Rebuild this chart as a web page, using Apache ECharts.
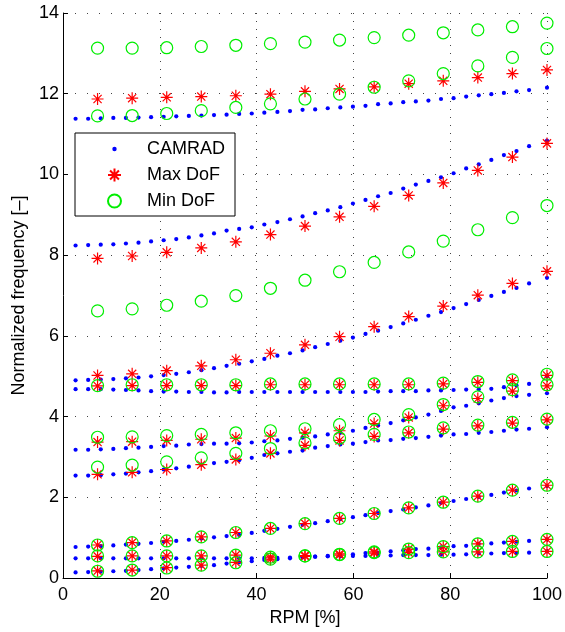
<!DOCTYPE html>
<html>
<head>
<meta charset="utf-8">
<script src="https://cdn.jsdelivr.net/npm/echarts@6/dist/echarts.min.js"></script>
<style>
  html, body { margin: 0; padding: 0; background: #fff; }
  #chart { width: 565px; height: 632px; }
</style>
</head>
<body>
<div id="chart"></div>
<script>
// RPM positions
var camradRpm = [2.6, 5.2, 7.8, 10.4, 13.0, 15.6, 18.2, 20.8, 23.4, 26.0, 28.6, 31.2, 33.8, 36.4, 39.0, 41.6, 44.3, 46.9, 49.5,
  52.1, 54.7, 57.3, 59.9, 62.5, 65.1, 67.7, 70.3, 72.9, 75.5, 78.1, 80.7, 83.3, 85.9, 88.5, 91.1, 93.7, 96.3, 100];
var dofRpm = [7.14, 14.29, 21.43, 28.57, 35.71, 42.86, 50, 57.14, 64.29, 71.43, 78.57, 85.71, 92.86, 100];

// CAMRAD, one array per mode
var camrad1 = [0.14, 0.15, 0.16, 0.17, 0.18, 0.20, 0.22, 0.24, 0.26, 0.28, 0.30, 0.32, 0.36, 0.39, 0.42, 0.45, 0.47, 0.49, 0.51,
  0.53, 0.55, 0.57, 0.59, 0.62, 0.63, 0.66, 0.69, 0.72, 0.73, 0.76, 0.79, 0.80, 0.85, 0.86, 0.88, 0.90, 0.92, 0.96];
var camrad2 = [0.49, 0.49, 0.49, 0.49, 0.49, 0.49, 0.49, 0.49, 0.49, 0.49, 0.49, 0.49, 0.49, 0.49, 0.49, 0.50, 0.50, 0.51, 0.52,
  0.53, 0.54, 0.54, 0.55, 0.55, 0.56, 0.56, 0.57, 0.57, 0.57, 0.58, 0.58, 0.59, 0.61, 0.61, 0.62, 0.62, 0.63, 0.66];
var camrad3 = [0.77, 0.78, 0.79, 0.81, 0.83, 0.85, 0.87, 0.90, 0.92, 0.95, 0.98, 1.01, 1.04, 1.07, 1.12, 1.17, 1.22, 1.27, 1.32,
  1.36, 1.41, 1.46, 1.51, 1.56, 1.61, 1.66, 1.70, 1.75, 1.80, 1.86, 1.91, 1.96, 2.01, 2.06, 2.12, 2.17, 2.22, 2.28];
var camrad4 = [2.54, 2.54, 2.55, 2.57, 2.59, 2.62, 2.65, 2.69, 2.72, 2.76, 2.81, 2.85, 2.88, 2.92, 2.98, 3.05, 3.09, 3.13, 3.16,
  3.23, 3.27, 3.31, 3.33, 3.37, 3.41, 3.42, 3.45, 3.47, 3.50, 3.53, 3.56, 3.57, 3.60, 3.62, 3.65, 3.68, 3.70, 3.74];
var camrad5 = [3.18, 3.18, 3.19, 3.20, 3.22, 3.23, 3.25, 3.27, 3.28, 3.31, 3.32, 3.33, 3.33, 3.34, 3.36, 3.39, 3.41, 3.45, 3.48,
  3.51, 3.56, 3.60, 3.65, 3.72, 3.78, 3.84, 3.91, 3.98, 4.05, 4.14, 4.23, 4.27, 4.33, 4.40, 4.46, 4.51, 4.54, 4.58];
var camrad6 = [4.68, 4.68, 4.68, 4.67, 4.66, 4.65, 4.63, 4.62, 4.62, 4.61, 4.61, 4.60, 4.60, 4.61, 4.61, 4.61, 4.61, 4.61, 4.61,
  4.61, 4.61, 4.61, 4.61, 4.61, 4.62, 4.63, 4.63, 4.63, 4.65, 4.65, 4.66, 4.67, 4.68, 4.69, 4.73, 4.77, 4.81, 5.00];
var camrad7 = [4.90, 4.91, 4.92, 4.93, 4.95, 4.97, 5.00, 5.03, 5.06, 5.10, 5.15, 5.20, 5.26, 5.31, 5.37, 5.43, 5.51, 5.57, 5.64,
  5.72, 5.80, 5.88, 5.96, 6.05, 6.13, 6.22, 6.31, 6.40, 6.50, 6.59, 6.69, 6.79, 6.89, 6.99, 7.09, 7.19, 7.30, 7.44];
var camrad8 = [8.24, 8.25, 8.26, 8.27, 8.29, 8.31, 8.34, 8.37, 8.40, 8.44, 8.49, 8.54, 8.61, 8.65, 8.69, 8.76, 8.82, 8.89, 8.96,
  9.04, 9.11, 9.19, 9.28, 9.37, 9.46, 9.54, 9.65, 9.75, 9.84, 9.93, 10.03, 10.15, 10.25, 10.36, 10.48, 10.58, 10.70, 10.84];
var camrad9 = [11.38, 11.38, 11.39, 11.40, 11.40, 11.41, 11.42, 11.43, 11.44, 11.45, 11.46, 11.47, 11.48, 11.50, 11.51, 11.53, 11.55, 11.57, 11.60,
  11.61, 11.64, 11.66, 11.68, 11.70, 11.74, 11.76, 11.79, 11.81, 11.83, 11.87, 11.89, 11.93, 11.96, 11.99, 12.02, 12.06, 12.09, 12.15];

// Max DoF
var maxDof1 = [0.18, 0.20, 0.26, 0.32, 0.39, 0.47, 0.56, 0.60, 0.65, 0.72, 0.78, 0.85, 0.91, 0.96];
var maxDof2 = [0.54, 0.55, 0.55, 0.55, 0.57, 0.52, 0.54, 0.57, 0.62, 0.63, 0.65, 0.65, 0.66, 0.66];
var maxDof3 = [0.82, 0.88, 0.92, 1.02, 1.13, 1.23, 1.35, 1.48, 1.60, 1.74, 1.88, 2.03, 2.18, 2.30];
var maxDof4 = [2.57, 2.62, 2.69, 2.81, 2.94, 3.09, 3.29, 3.41, 3.51, 3.60, 3.69, 3.77, 3.84, 3.92];
var maxDof5 = [3.37, 3.38, 3.41, 3.44, 3.47, 3.52, 3.60, 3.65, 3.83, 3.98, 4.27, 4.45, 4.63, 4.76];
var maxDof6 = [4.76, 4.77, 4.77, 4.77, 4.77, 4.79, 4.79, 4.79, 4.79, 4.79, 4.81, 4.85, 4.89, 5.02];
var maxDof7 = [5.02, 5.06, 5.14, 5.26, 5.41, 5.57, 5.78, 5.98, 6.23, 6.48, 6.74, 7.01, 7.30, 7.60];
var maxDof8 = [7.92, 7.98, 8.07, 8.18, 8.33, 8.51, 8.72, 8.95, 9.21, 9.48, 9.79, 10.10, 10.43, 10.77];
var maxDof9 = [11.87, 11.89, 11.91, 11.93, 11.95, 11.99, 12.06, 12.12, 12.17, 12.25, 12.32, 12.40, 12.50, 12.59];

// Min DoF
var minDof1 = [0.17, 0.20, 0.25, 0.32, 0.38, 0.47, 0.55, 0.59, 0.65, 0.72, 0.78, 0.85, 0.91, 0.96];
var minDof2 = [0.55, 0.55, 0.55, 0.55, 0.57, 0.52, 0.55, 0.58, 0.63, 0.63, 0.65, 0.65, 0.66, 0.66];
var minDof3 = [0.82, 0.88, 0.92, 1.02, 1.13, 1.23, 1.35, 1.48, 1.60, 1.74, 1.88, 2.03, 2.18, 2.30];
var minDof4 = [2.75, 2.80, 2.88, 2.98, 3.09, 3.21, 3.35, 3.47, 3.56, 3.62, 3.72, 3.79, 3.86, 3.94];
var minDof5 = [3.49, 3.50, 3.53, 3.56, 3.60, 3.65, 3.70, 3.80, 3.93, 4.05, 4.30, 4.49, 4.67, 4.79];
var minDof6 = [4.77, 4.79, 4.79, 4.79, 4.79, 4.81, 4.81, 4.81, 4.81, 4.81, 4.83, 4.87, 4.91, 5.05];
var minDof7 = [6.62, 6.67, 6.76, 6.86, 7.00, 7.18, 7.38, 7.59, 7.82, 8.08, 8.35, 8.63, 8.93, 9.23];
var minDof8 = [11.45, 11.46, 11.51, 11.58, 11.66, 11.75, 11.87, 11.99, 12.16, 12.32, 12.50, 12.69, 12.90, 13.12];
var minDof9 = [13.13, 13.13, 13.14, 13.17, 13.20, 13.24, 13.28, 13.33, 13.39, 13.45, 13.51, 13.58, 13.66, 13.75];

var xTicks = [0, 20, 40, 60, 80, 100];
var yTicks = [0, 2, 4, 6, 8, 10, 12, 14];

function toPoints (xs, modes) {
  var pts = [];
  for (var m = 0; m < modes.length; m++) {
    for (var i = 0; i < xs.length; i++) {
      pts.push([xs[i], modes[m][i]]);
    }
  }
  return pts;
}

var camradData = toPoints(camradRpm, [camrad1, camrad2, camrad3, camrad4, camrad5, camrad6, camrad7, camrad8, camrad9]);
var maxDofData = toPoints(dofRpm, [maxDof1, maxDof2, maxDof3, maxDof4, maxDof5, maxDof6, maxDof7, maxDof8, maxDof9]);
var minDofData = toPoints(dofRpm, [minDof1, minDof2, minDof3, minDof4, minDof5, minDof6, minDof7, minDof8, minDof9]);

var font = "'Liberation Sans', Arial, sans-serif";
var starPath = 'path://M5,0L5,10M0,5L10,5M1.6,1.6L8.4,8.4M1.6,8.4L8.4,1.6';
// small dot inside a 10x10 box so the legend keeps it tiny
var dotIcon = 'path://M0,0M10,10M5,3.3A1.7,1.7,0,1,1,5,6.7A1.7,1.7,0,1,1,5,3.3Z';

var chart = echarts.init(document.getElementById('chart'));
var option = {
  animation: false,
  backgroundColor: '#fff',
  textStyle: { fontFamily: font },
  grid: { left: 63, top: 13, width: 485, height: 566, containLabel: false },
  legend: {
    orient: 'vertical',
    left: 75,
    top: 133,
    padding: [6, 10, 5, 32],
    itemGap: 6,
    itemWidth: 13,
    itemHeight: 13,
    borderColor: '#000',
    borderWidth: 1,
    backgroundColor: '#fff',
    textStyle: { fontSize: 18, color: '#000', fontFamily: font, lineHeight: 20, padding: [0, 0, 0, 21] },
    data: [
      { name: 'CAMRAD', icon: dotIcon },
      { name: 'Max DoF' },
      { name: 'Min DoF' }
    ]
  },
  xAxis: {
    type: 'value',
    min: 0,
    max: 100,
    interval: 20,
    name: 'RPM [%]',
    nameLocation: 'middle',
    nameGap: 28,
    nameTextStyle: { fontSize: 18, color: '#000', fontFamily: font },
    axisLine: { onZero: false, lineStyle: { color: '#000', width: 1 } },
    axisTick: { inside: true, length: 5, lineStyle: { color: '#000' } },
    axisLabel: {
      fontSize: 18, color: '#000', margin: 8, fontFamily: font,
      formatter: function (v) { return xTicks.indexOf(v) >= 0 ? String(v) : ''; }
    },
    splitLine: { show: true, lineStyle: { color: '#444', width: 1, type: [1, 7] } }
  },
  yAxis: {
    type: 'value',
    min: 0,
    max: 14,
    interval: 2,
    name: 'Normalized frequency [–]',
    nameLocation: 'middle',
    nameGap: 32,
    nameTextStyle: { fontSize: 18, color: '#000', fontFamily: font },
    axisLine: { show: true, onZero: false, lineStyle: { color: '#000', width: 1 } },
    axisTick: { show: true, inside: true, length: 5, lineStyle: { color: '#000' } },
    axisLabel: {
      fontSize: 18, color: '#000', margin: 4, fontFamily: font,
      formatter: function (v) { return yTicks.indexOf(v) >= 0 ? String(v) : ''; }
    },
    splitLine: { show: true, lineStyle: { color: '#444', width: 1, type: [1, 11] } }
  },
  series: [
    {
      name: 'CAMRAD',
      type: 'scatter',
      symbol: 'circle',
      symbolSize: 4.2,
      itemStyle: { color: '#0000ff', opacity: 1 },
      data: camradData
    },
    {
      name: 'Max DoF',
      type: 'scatter',
      symbol: starPath,
      symbolSize: 12,
      itemStyle: { color: 'rgba(0,0,0,0)', borderColor: '#ff0000', borderWidth: 1.2, opacity: 1 },
      data: maxDofData
    },
    {
      name: 'Min DoF',
      type: 'scatter',
      symbol: 'circle',
      symbolSize: 12,
      itemStyle: { color: 'rgba(0,0,0,0)', borderColor: '#00ee00', borderWidth: 1.2, opacity: 1 },
      data: minDofData
    }
  ]
};
chart.setOption(option);
</script>
</body>
</html>
